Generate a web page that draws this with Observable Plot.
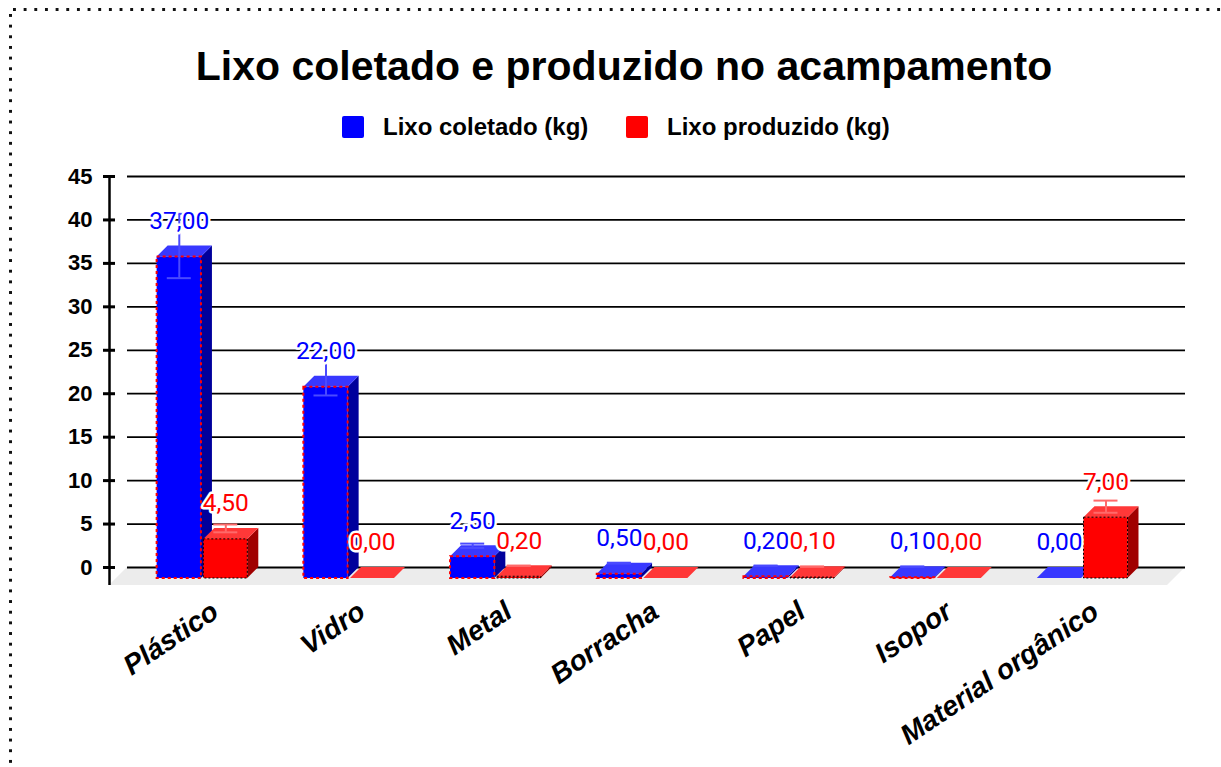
<!DOCTYPE html>
<html>
<head>
<meta charset="utf-8">
<script src="https://cdn.jsdelivr.net/npm/d3@7"></script>
<script src="https://cdn.jsdelivr.net/npm/@observablehq/plot@0.6"></script>
<style>
  html, body { margin: 0; padding: 0; background: #fff; width: 1221px; height: 767px; overflow: hidden;
    font-family: "Liberation Sans", Arial, sans-serif; }
  #dotsTop { position: absolute; left: 13px; top: 8px; width: 1210px; height: 3px;
    background-image: linear-gradient(to right, #111 0 3px, transparent 3px);
    background-size: 10.67px 3px; background-repeat: repeat-x; }
  #dotsLeft { position: absolute; left: 9px; top: 14px; width: 3px; height: 760px;
    background-image: linear-gradient(to bottom, #111 0 3px, transparent 3px);
    background-size: 3px 10.67px; background-repeat: repeat-y; }
  #head { position: relative; height: 150px; }
  #title { position: absolute; left: 0; top: 42px; width: 1248px; text-align: center;
    font-weight: bold; font-size: 41px; line-height: 48px; color: #000; white-space: nowrap; }
  .sw { position: absolute; width: 22px; height: 22px; border-radius: 2px; }
  .lt { position: absolute; font-weight: bold; font-size: 24px; line-height: 28px; color: #000; white-space: nowrap; }
  #chart { position: relative; height: 617px; }
</style>
</head>
<body>
<div id="dotsTop"></div>
<div id="dotsLeft"></div>
<div id="head">
  <div id="title"></div>
  <div id="legend"></div>
</div>
<div id="chart"></div>
<script>
// ---------- data ----------
const titleText = "Lixo coletado e produzido no acampamento";
const categories = ["Plástico", "Vidro", "Metal", "Borracha", "Papel", "Isopor", "Material orgânico"];
const seriesNames = ["Lixo coletado (kg)", "Lixo produzido (kg)"];
const coletado = [37.00, 22.00, 2.50, 0.50, 0.20, 0.10, 0.00];
const produzido = [4.50, 0.00, 0.20, 0.00, 0.10, 0.00, 7.00];
const erroColetado = [3.70, 2.20, 0.25, 0.05, 0.02, 0.01, 0.00];
const erroProduzido = [0.45, 0.00, 0.02, 0.00, 0.01, 0.00, 0.70];
const yTicks = [0, 5, 10, 15, 20, 25, 30, 35, 40, 45];

// ---------- styles ----------
const palette = [
  {front: "#0000ff", top: "#3838ff", side: "#00009c", err: "#4a4aff", label: "#0000ff", edge: "#ff0000", edgeW: 2, dash: "3,3"},
  {front: "#ff0000", top: "#ff3838", side: "#a00000", err: "#ff6a6a", label: "#ff0000", edge: "#000000", edgeW: 1, dash: "2,2"}
];

// header
document.getElementById("title").textContent = titleText;
const legend = document.getElementById("legend");
const legendPos = [{sw: 342, tx: 383}, {sw: 626, tx: 667}];
seriesNames.forEach((name, s) => {
  const sw = document.createElement("div");
  sw.className = "sw"; sw.style.left = legendPos[s].sw + "px"; sw.style.top = "116px";
  sw.style.background = palette[s].front;
  legend.appendChild(sw);
  const t = document.createElement("div");
  t.className = "lt"; t.style.left = legendPos[s].tx + "px"; t.style.top = "113px";
  t.textContent = name;
  legend.appendChild(t);
});

// ---------- layout ----------
const W = 1221, H = 617, mL = 127, mR = 36, mT = 26, mB = 200;
const xDom = [-0.586, 6.626], yDom = [0, 45];
const pxX = (W - mL - mR) / (xDom[1] - xDom[0]);
const pxY = (H - mT - mB) / (yDom[1] - yDom[0]);
const depth = 11, floorDepth = 18;
const dxU = depth / pxX, dyU = depth / pxY;
const fdx = floorDepth / pxX, fdy = floorDepth / pxY;
const offsets = [[-0.309, -0.007], [0.009, 0.309]];
const capHalf = 12 / pxX;

const values = [coletado, produzido];
const errors = [erroColetado, erroProduzido];

function barsFor(s) {
  return categories.map((c, i) => {
    const xl = i + offsets[s][0], xr = i + offsets[s][1];
    const v = values[s][i];
    return {id: s + "-" + i, cat: c, s, v, e: errors[s][i], xl, xr, xc: (xl + xr) / 2 - dxU};
  });
}
const bars = [barsFor(0), barsFor(1)];

function sidePts(bs) {
  return bs.flatMap(b => [
    {id: b.id, x: b.xr - dxU, y1: -dyU, y2: b.v - dyU},
    {id: b.id, x: b.xr, y1: 0, y2: b.v}
  ]);
}
function topPts(bs) {
  return bs.flatMap(b => [
    {id: b.id, y: b.v - dyU, x1: b.xl - dxU, x2: b.xr - dxU},
    {id: b.id, y: b.v, x1: b.xl, x2: b.xr}
  ]);
}

const marks = [];
// floor
marks.push(Plot.areaX([
  {y: 0, x1: xDom[0], x2: xDom[1]},
  {y: -fdy, x1: xDom[0] - fdx, x2: xDom[1] - fdx}
], {y: "y", x1: "x1", x2: "x2", fill: "#ececec"}));
// grid
marks.push(Plot.ruleY(yTicks, {x1: xDom[0], x2: xDom[1], stroke: "#000", strokeWidth: 1.8}));
// side faces
[0, 1].forEach(s => marks.push(Plot.areaY(sidePts(bars[s]), {x: "x", y1: "y1", y2: "y2", z: "id", fill: palette[s].side})));
// top faces
[0, 1].forEach(s => marks.push(Plot.areaX(topPts(bars[s]), {y: "y", x1: "x1", x2: "x2", z: "id", fill: palette[s].top})));
// front faces
[0, 1].forEach(s => marks.push(Plot.rect(bars[s], {
  x1: d => d.xl - dxU, x2: d => d.xr - dxU, y1: -dyU, y2: d => d.v - dyU,
  fill: palette[s].front, stroke: palette[s].edge, strokeWidth: palette[s].edgeW, strokeDasharray: palette[s].dash
})));
// error bars
[0, 1].forEach(s => {
  const eb = bars[s].filter(d => d.e > 0);
  marks.push(Plot.ruleX(eb, {x: "xc", y1: d => d.v - d.e, y2: d => d.v + d.e, stroke: palette[s].err, strokeWidth: 2}));
  const caps = eb.flatMap(d => [{y: d.v - d.e, xc: d.xc}, {y: d.v + d.e, xc: d.xc}]);
  marks.push(Plot.ruleY(caps, {y: "y", x1: d => d.xc - capHalf, x2: d => d.xc + capHalf, stroke: palette[s].err, strokeWidth: 2}));
});
// value labels
[0, 1].forEach(s => marks.push(Plot.text(bars[s], {
  x: "xc", y: "v", dy: -25, text: d => d.v.toFixed(2).replace(".", ","),
  fill: palette[s].label, stroke: "#fff", strokeWidth: 5, fontSize: 24.5,
  fontFamily: "Roboto, 'Liberation Sans', sans-serif"
})));
// y axis line
marks.push(Plot.ruleX([xDom[0]], {y1: -fdy, y2: 45, dx: -floorDepth, stroke: "#000", strokeWidth: 2.5}));
// y axis ticks + labels
marks.push(Plot.axisY(yTicks, {
  anchor: "left", tickSize: 12, dx: -12, tickPadding: 11, strokeWidth: 3, stroke: "#000",
  fontSize: 22, fontWeight: "bold", fill: "#000", label: null, tickFormat: d => String(d)
}));
// category labels
marks.push(Plot.text(categories, {
  x: (d, i) => i, y: 0, dx: 2, dy: 41, rotate: -34, textAnchor: "end", text: d => d,
  fontSize: 28, fontWeight: "bold", fontStyle: "italic", fill: "#000"
}));

const chart = Plot.plot({
  width: W, height: H,
  marginLeft: mL, marginRight: mR, marginTop: mT, marginBottom: mB,
  x: {domain: xDom, axis: null},
  y: {domain: yDom, axis: null},
  style: {fontFamily: "'Liberation Sans', Arial, sans-serif", background: "transparent", overflow: "visible", color: "#000"},
  marks
});
document.getElementById("chart").appendChild(chart);
</script>
</body>
</html>
